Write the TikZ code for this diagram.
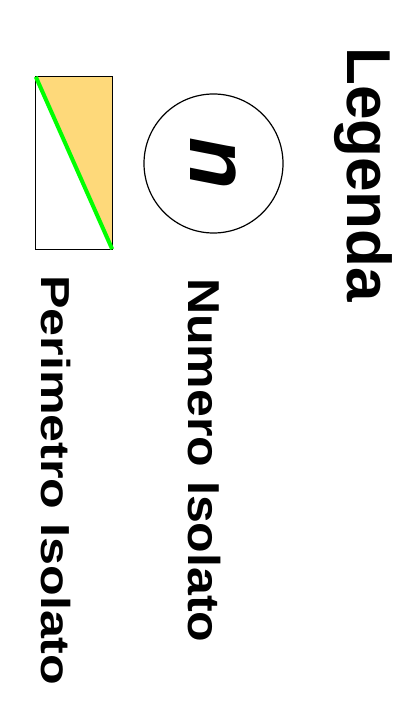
\documentclass[tikz,border=0pt]{standalone}
\usepackage{fontspec}
\setmainfont{Liberation Sans}
\definecolor{perimfill}{RGB}{254,217,122}
\definecolor{perimline}{RGB}{0,255,0}

\begin{document}
\begin{tikzpicture}[
    x=1pt, y=-1pt,
    lbl/.style={rotate=-90, anchor=base west, inner sep=0pt, font=\bfseries},
    frame/.style={draw=black, line width=1.2pt}
  ]
    \useasboundingbox (0,0) rectangle (415,719);

    % titolo
    \node[lbl] (title) at (347,47) {\fontsize{62}{70}\selectfont Legenda};

    % numero isolato
    \node[circle, frame, minimum size=139pt, inner sep=0pt, rotate=-90,
          font=\fontsize{85}{85}\selectfont\bfseries\itshape] (numero) at (213.5,163.5) {n};
    \node[lbl] (numlbl) at (188,278)
      {\fontsize{44.7}{50}\selectfont\scalebox{1.12}[1]{Numero Isolato}};

    % perimetro isolato
    \path node[minimum width=76pt, minimum height=172pt, inner sep=0pt] (perim) at (74,163) {};
    \fill[perimfill] (perim.north west) -- (perim.north east) -- (perim.south east) -- cycle;
    \draw[frame] (perim.south west) rectangle (perim.north east);
    \draw[perimline, line width=4pt] (perim.north west) -- (perim.south east);
    \node[lbl] (perimlbl) at (41,275)
      {\fontsize{40.5}{46}\selectfont\scalebox{1.24}[1]{Perimetro Isolato}};
\end{tikzpicture}
\end{document}
